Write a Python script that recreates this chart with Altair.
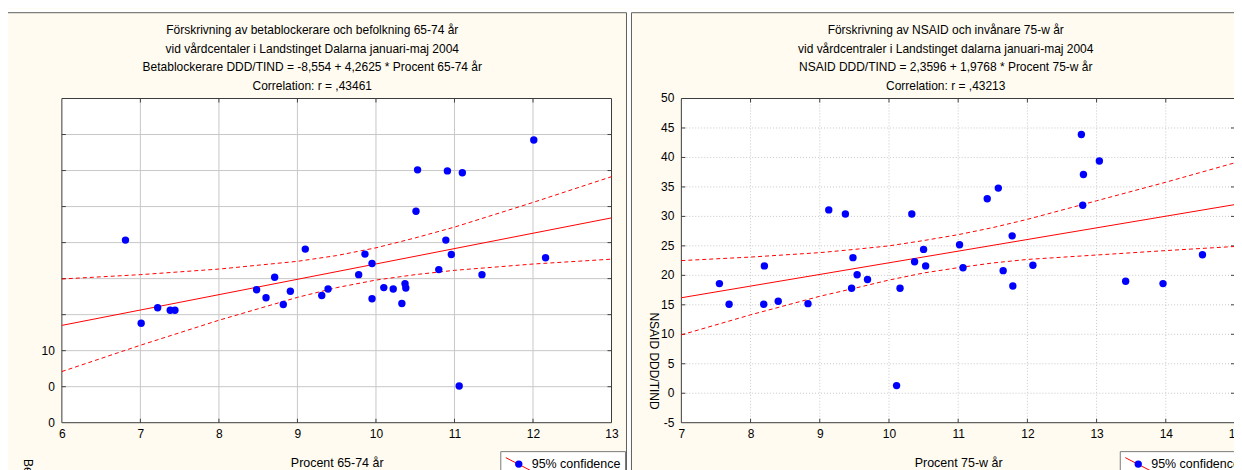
import altair as alt
import pandas as pd

FONT = "Liberation Sans"
CREAM = "#FFFBF0"
BLUE = "#0000FF"
RED = "#FF0000"

# ---------------- Left panel: betablockerare ----------------
left_title = [
    "Förskrivning av betablockerare och befolkning 65-74 år",
    "vid vårdcentaler i Landstinget Dalarna januari-maj 2004",
    "Betablockerare DDD/TIND = -8,554 + 4,2625 * Procent 65-74 år",
    "Correlation: r = ,43461",
]
left_xtitle = "Procent 65-74 år"
left_ytitle = "Betablockerare DDD/TIND"
left_x = [6.81, 7.01, 7.22, 7.38, 7.44, 8.48, 8.60, 8.71, 8.82, 8.91, 9.10,
          9.31, 9.39, 9.78, 9.86, 9.95, 9.95, 10.10, 10.22, 10.33, 10.37,
          10.38, 10.51, 10.53, 10.80, 10.89, 10.91, 10.96, 11.06, 11.10,
          11.35, 12.01, 12.16]
left_y = [40.7, 17.6, 21.9, 21.2, 21.2, 26.9, 24.7, 30.4, 22.8, 26.5, 38.2,
          25.3, 27.1, 31.1, 36.8, 34.2, 24.4, 27.5, 27.1, 23.1, 28.6,
          27.4, 48.7, 60.2, 32.5, 40.7, 59.9, 36.7, 0.2, 59.4,
          31.1, 68.5, 35.8]
left_band_x = [6, 7, 8, 9, 9.5, 10, 10.5, 11, 12, 13]
left_band_upper = [29.9, 31.1, 32.65, 34.8, 36.4, 38.55, 41.3, 44.3, 51.15, 58.3]
left_band_lower = [4.2, 11.5, 18.45, 24.8, 27.5, 29.6, 31.1, 32.3, 34.05, 35.4]
left_fit_x = [6, 13]
left_fit_y = [17.02, 46.86]
left_xdomain = [6, 13]
left_ydomain = [-10, 80]
left_xticks = [6, 7, 8, 9, 10, 11, 12, 13]
left_xgrid = [7, 8, 9, 10, 11, 12]
left_ygrid = [0, 10, 20, 30, 40, 50, 60, 70]
left_ylabel_values = [-10, 0, 10]
left_ylabel_text = ["0", "0", "10"]

# ---------------- Right panel: NSAID ----------------
right_title = [
    "Förskrivning av NSAID och invånare 75-w år",
    "vid vårdcentraler i Landstinget dalarna januari-maj 2004",
    "NSAID DDD/TIND = 2,3596 + 1,9768 * Procent 75-w år",
    "Correlation: r = ,43213",
]
right_xtitle = "Procent 75-w år"
right_ytitle = "NSAID DDD/TIND"
right_x = [7.55, 7.69, 8.20, 8.19, 8.40, 8.83, 9.13, 9.37, 9.48, 9.54, 9.46,
           9.69, 10.11, 10.16, 10.33, 10.37, 10.50, 10.53, 11.02, 11.07,
           11.42, 11.58, 11.65, 11.78, 11.79, 12.08, 12.78, 12.81, 12.80,
           13.04, 13.42, 13.96, 14.53]
right_y = [18.6, 15.1, 21.6, 15.1, 15.6, 15.2, 31.1, 30.4, 23.0, 20.1, 17.8,
           19.3, 1.3, 17.8, 30.4, 22.3, 24.4, 21.6, 25.2, 21.3,
           33.0, 34.8, 20.8, 26.7, 18.2, 21.7, 43.9, 37.1, 31.9,
           39.4, 19.0, 18.6, 23.5]
right_band_x = [7, 8, 9, 9.5, 10, 10.5, 11, 11.5, 12, 13, 14, 15]
right_band_upper = [22.5, 23.1, 23.85, 24.4, 25.0, 25.9, 26.9, 28.1, 29.5, 32.65, 35.8, 39.1]
right_band_lower = [9.9, 13.3, 16.45, 17.8, 19.2, 20.4, 21.3, 22.1, 22.7, 23.45, 24.2, 24.9]
right_fit_x = [7, 15]
right_fit_y = [16.20, 32.01]
right_xdomain = [7, 15]
right_ydomain = [-5, 50]
right_xticks = [7, 8, 9, 10, 11, 12, 13, 14, 15]
right_xgrid = [8, 9, 10, 11, 12, 13, 14]
right_ygrid = [0, 5, 10, 15, 20, 25, 30, 35, 40, 45]
right_ylabel_values = [-5, 0, 5, 10, 15, 20, 25, 30, 35, 40, 45, 50]
right_ylabel_text = ["-5", "0", "5", "10", "15", "20", "25", "30", "35", "40", "45", "50"]

legend_text = "95% confidence"

W_L, W_R, H = 551, 555, 325
TITLE_Y = [-68.5, -50, -31.5, -13]
one = pd.DataFrame({"k": [0]})


def panel(px, py, bx, bu, bl, fx, fy, xdom, ydom, xticks, xgrid, ygrid,
          yvals, ytexts, title_lines, xtitle, ytitle, ytitle_x, ytitle_y,
          frame_x, frame_x2, W, grid_dash, title_cx, gap=False):
    xs = alt.Scale(domain=xdom, nice=False, zero=False)
    ys = alt.Scale(domain=ydom, nice=False, zero=False)
    pts = pd.DataFrame({"x": px, "y": py})
    band = pd.DataFrame({"x": bx + bx, "y": bu + bl,
                         "side": ["upper"] * len(bx) + ["lower"] * len(bx)})
    fit = pd.DataFrame({"x": fx, "y": fy})
    xg = pd.DataFrame({"v": xgrid})
    yg = pd.DataFrame({"v": ygrid})
    ylab = pd.DataFrame({"v": yvals, "t": ytexts})

    xaxis = alt.Axis(values=xticks, format="d", grid=False, ticks=False, domain=False,
                     labelFlush=False, labelOverlap=False, labelPadding=6,
                     labelFontSize=12, labelFont=FONT, labelColor="black",
                     title=xtitle, titleY=40, titleBaseline="middle",
                     titleFontSize=12.5, titleFont=FONT, titleFontWeight="normal",
                     titleColor="black")
    yaxis = alt.Axis(grid=False, ticks=False, domain=False, labels=False,
                     title=ytitle, titleAngle=90, titleAlign="left",
                     titleBaseline="middle", titleX=ytitle_x, titleY=ytitle_y,
                     titleFontSize=12, titleFont=FONT, titleFontWeight="normal",
                     titleColor="black")

    layers = []
    # white strip above the panel frame
    layers.append(alt.Chart(one).mark_rect(fill="white").encode(
        x=alt.value(frame_x), x2=alt.value(frame_x2 + 5),
        y=alt.value(-90), y2=alt.value(-86)))
    if gap:
        layers.append(alt.Chart(one).mark_rect(fill="white").encode(
            x=alt.value(frame_x2), x2=alt.value(frame_x2 + 5),
            y=alt.value(-90), y2=alt.value(390)))
    # panel frame (stroke only, cream comes from the background)
    layers.append(alt.Chart(one).mark_rect(fillOpacity=0, stroke="#5f5f5f", strokeWidth=1).encode(
        x=alt.value(frame_x), x2=alt.value(frame_x2), y=alt.value(-86), y2=alt.value(390)))
    grid_kw = dict(color="#c8c8c8", strokeWidth=1)
    if grid_dash:
        grid_kw["strokeDash"] = grid_dash
    # grid rules carry the axes (first layers with position fields)
    layers.append(alt.Chart(xg).mark_rule(**grid_kw).encode(
        x=alt.X("v:Q", scale=xs, axis=xaxis)))
    layers.append(alt.Chart(yg).mark_rule(**grid_kw).encode(
        y=alt.Y("v:Q", scale=ys, axis=yaxis)))
    tick_kw = dict(color="#404040", strokeWidth=1)
    layers.append(alt.Chart(xg).mark_rule(**tick_kw).encode(
        x=alt.X("v:Q", scale=xs), y=alt.value(H - 4), y2=alt.value(H)))
    layers.append(alt.Chart(xg).mark_rule(**tick_kw).encode(
        x=alt.X("v:Q", scale=xs), y=alt.value(0), y2=alt.value(4)))
    layers.append(alt.Chart(yg).mark_rule(**tick_kw).encode(
        y=alt.Y("v:Q", scale=ys), x=alt.value(0), x2=alt.value(4)))
    layers.append(alt.Chart(yg).mark_rule(**tick_kw).encode(
        y=alt.Y("v:Q", scale=ys), x=alt.value(W - 4), x2=alt.value(W)))
    # y tick labels
    layers.append(alt.Chart(ylab).mark_text(align="right", baseline="middle", fontSize=12,
                                            font=FONT, color="black").encode(
        y=alt.Y("v:Q", scale=ys), x=alt.value(-7), text="t:N"))
    layers.append(alt.Chart(one).mark_rect(fillOpacity=0, stroke="#3a3a3a", strokeWidth=1).encode(
        x=alt.value(0), x2=alt.value(W), y=alt.value(0), y2=alt.value(H)))
    layers.append(alt.Chart(band).mark_line(color=RED, strokeWidth=1, strokeDash=[4, 3]).encode(
        x=alt.X("x:Q", scale=xs), y=alt.Y("y:Q", scale=ys), detail="side:N"))
    layers.append(alt.Chart(fit).mark_line(color=RED, strokeWidth=1).encode(
        x=alt.X("x:Q", scale=xs), y=alt.Y("y:Q", scale=ys)))
    layers.append(alt.Chart(pts).mark_circle(size=55, color=BLUE, opacity=1).encode(
        x=alt.X("x:Q", scale=xs), y=alt.Y("y:Q", scale=ys)))
    for line, ty in zip(title_lines, TITLE_Y):
        layers.append(alt.Chart(one).mark_text(text=line, fontSize=12, font=FONT,
                                               align="center", baseline="middle",
                                               color="black").encode(
            x=alt.value(title_cx), y=alt.value(ty)))
    layers.append(alt.Chart(one).mark_rect(fill="white", stroke="#7a7a7a", strokeWidth=1).encode(
        x=alt.value(440), x2=alt.value(W + 14), y=alt.value(354), y2=alt.value(390)))
    layers.append(alt.Chart(one).mark_rule(color=RED, strokeWidth=1).encode(
        x=alt.value(445), x2=alt.value(470), y=alt.value(360), y2=alt.value(373)))
    layers.append(alt.Chart(one).mark_circle(size=55, color=BLUE, opacity=1).encode(
        x=alt.value(458), y=alt.value(366.5)))
    layers.append(alt.Chart(one).mark_text(text=legend_text, fontSize=12.5, font=FONT,
                                           align="left", baseline="middle", color="black").encode(
        x=alt.value(471), y=alt.value(366.5)))
    return alt.layer(*layers).properties(width=W, height=H)


left = panel(left_x, left_y, left_band_x, left_band_upper, left_band_lower,
             left_fit_x, left_fit_y, left_xdomain, left_ydomain, left_xticks,
             left_xgrid, left_ygrid, left_ylabel_values, left_ylabel_text,
             left_title, left_xtitle, left_ytitle, -34, 361,
             -58, 566, W_L, None, 251, gap=True)
right = panel(right_x, right_y, right_band_x, right_band_upper, right_band_lower,
              right_fit_x, right_fit_y, right_xdomain, right_ydomain, right_xticks,
              right_xgrid, right_ygrid, right_ylabel_values, right_ylabel_text,
              right_title, right_xtitle, right_ytitle, -28, 214,
              -50, 565, W_R, [1, 2], 265)

chart = alt.hconcat(left, right, spacing=70, bounds="flush").properties(
    padding={"left": -5, "top": 0, "right": -16, "bottom": 0},
    background=CREAM,
).configure_view(strokeWidth=0, fill="white").configure_axis(
    labelFont=FONT, labelFontSize=12, labelColor="black", labelOverlap=False,
    titleFont=FONT, titleFontSize=12, titleFontWeight="normal", titleColor="black"
)

chart.save("out.html", embed_options={"renderer": "svg", "actions": False})
